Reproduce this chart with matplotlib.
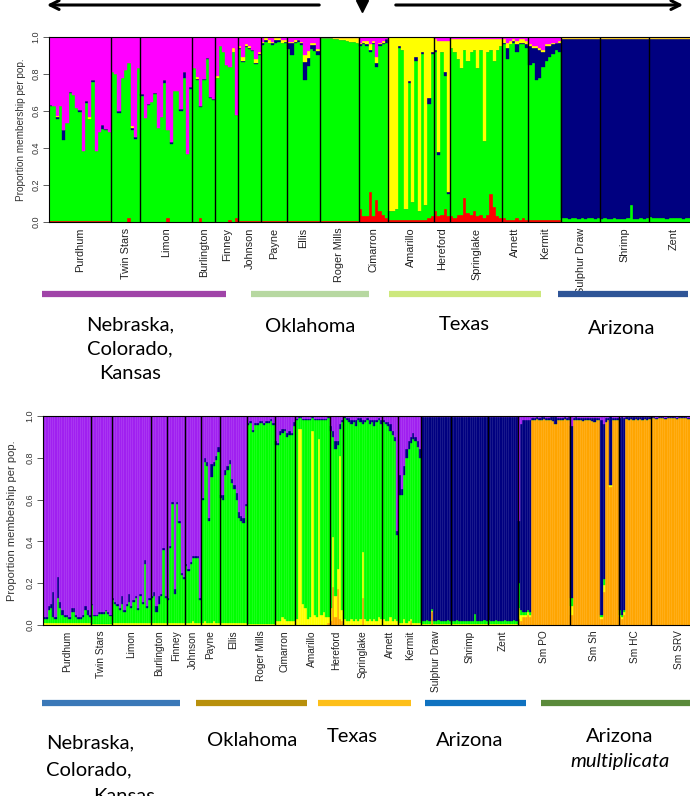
import numpy as np
import matplotlib.pyplot as plt

# ---- top panel (K=5): red, green, navy, yellow, magenta(rest) ----
TOP_POPS = ['Purdhum', 'Twin Stars', 'Limon', 'Burlington', 'Finney', 'Johnson', 'Payne', 'Ellis',
            'Roger Mills', 'Cimarron', 'Amarillo', 'Hereford', 'Springlake', 'Arnett', 'Kermit',
            'Sulphur Draw', 'Shrimp', 'Zent']
# a scalar means the same value for every individual of that population
TOP_N = [19, 9, 16, 7, 7, 7, 8, 10, 12, 9, 14, 5, 16, 8, 10, 12, 15, 15]
TOP_GREEN = [
    [0.62, 0.62, 0.55, 0.62, 0.44, 0.53, 0.69, 0.68, 0.61, 0.59, 0.38, 0.64, 0.55, 0.75, 0.38, 0.48, 0.50, 0.49, 0.48],
    [0.81, 0.80, 0.59, 0.78, 0.82, 0.84, 0.50, 0.45, 0.83],
    [0.68, 0.56, 0.63, 0.65, 0.69, 0.51, 0.57, 0.75, 0.48, 0.42, 0.71, 0.71, 0.60, 0.78, 0.37, 0.72],
    [0.83, 0.77, 0.60, 0.77, 0.88, 0.67, 0.66],
    [0.78, 0.95, 0.92, 0.85, 0.83, 0.92, 0.56],
    [0.93, 0.86, 0.94, 0.93, 0.92, 0.85, 0.90],
    [0.95, 0.97, 0.96, 0.95, 0.96, 0.97, 0.96, 0.96],
    [0.93, 0.90, 0.96, 0.97, 0.95, 0.76, 0.84, 0.93, 0.92, 0.90],
    [0.99, 0.99, 0.99, 0.99, 0.985, 0.985, 0.98, 0.98, 0.975, 0.97, 0.97, 0.96],
    [0.88, 0.93, 0.92, 0.76, 0.93, 0.72, 0.89, 0.92, 0.95],
    [0.05, 0.05, 0.06, 0.93, 0.92, 0.06, 0.74, 0.10, 0.86, 0.05, 0.90, 0.08, 0.62, 0.88],
    [0.86, 0.33, 0.88, 0.72, 0.12],
    [0.91, 0.90, 0.84, 0.79, 0.80, 0.82, 0.88, 0.87, 0.80, 0.89, 0.42, 0.88, 0.78, 0.79, 0.90, 0.93],
    [0.94, 0.87, 0.95, 0.96, 0.90, 0.95, 0.94, 0.93],
    [0.84, 0.85, 0.76, 0.77, 0.83, 0.86, 0.88, 0.90, 0.92, 0.91],
    [0.02, 0.02, 0.015, 0.02, 0.02, 0.015, 0.02, 0.015, 0.02, 0.02, 0.015, 0.02],
    [0.015, 0.02, 0.015, 0.015, 0.02, 0.015, 0.015, 0.015, 0.02, 0.09, 0.015, 0.015, 0.02, 0.015, 0.02],
    [0.025, 0.02, 0.02, 0.02, 0.02, 0.015, 0.02, 0.02, 0.02, 0.02, 0.015, 0.02, 0.02, 0.02, 0.02],
]
TOP_RED = [
    0.005,
    [0, 0, 0, 0, 0, 0.02, 0, 0, 0],
    [0, 0, 0, 0, 0, 0, 0, 0, 0.02, 0, 0, 0, 0, 0, 0, 0],
    [0, 0, 0.02, 0, 0, 0, 0],
    [0, 0, 0, 0, 0.01, 0, 0.02],
    0.005, 0.005, 0.005, 0.005,
    [0.07, 0.03, 0.03, 0.16, 0.03, 0.12, 0.06, 0.04, 0.02],
    [0.01, 0.01, 0.01, 0.01, 0.01, 0.01, 0.01, 0.01, 0.01, 0.01, 0.01, 0.01, 0.02, 0.03],
    [0.06, 0.03, 0.04, 0.07, 0.03],
    [0.03, 0.02, 0.04, 0.04, 0.13, 0.05, 0.04, 0.06, 0.03, 0.04, 0.02, 0.04, 0.15, 0.08, 0.03, 0.02],
    [0.02, 0.01, 0.01, 0.01, 0.02, 0.01, 0.02, 0.01],
    0.01, 0, 0, 0,
]
TOP_NAVY = [
    [0.01, 0, 0.01, 0, 0.05, 0, 0.01, 0, 0, 0.01, 0, 0.01, 0, 0.01, 0, 0, 0.02, 0.01, 0],
    [0, 0, 0.01, 0, 0, 0, 0.01, 0.01, 0],
    [0.01, 0, 0.01, 0, 0.01, 0, 0, 0.02, 0, 0.01, 0, 0, 0.01, 0.03, 0, 0.01],
    0.005, 0, 0.005,
    [0.01, 0.01, 0, 0.01, 0.02, 0.01, 0, 0.01],
    [0.03, 0.06, 0.01, 0.01, 0.01, 0.10, 0.04, 0.02, 0.03, 0.02],
    0,
    [0.01, 0.01, 0.01, 0.01, 0.01, 0.02, 0.01, 0.01, 0.02],
    [0, 0, 0, 0.01, 0, 0, 0.01, 0, 0.02, 0, 0.01, 0, 0.03, 0.01],
    [0.01, 0.02, 0, 0.02, 0.01],
    0,
    [0.01, 0.06, 0, 0.01, 0.04, 0.01, 0.01, 0.02],
    [0.10, 0.08, 0.17, 0.15, 0.08, 0.08, 0.06, 0.05, 0.04, 0.05],
    [0.97, 0.97, 0.975, 0.97, 0.97, 0.975, 0.97, 0.975, 0.97, 0.97, 0.975, 0.97],
    [0.975, 0.97, 0.975, 0.975, 0.97, 0.975, 0.975, 0.975, 0.97, 0.90, 0.975, 0.975, 0.97, 0.975, 0.97],
    [0.965, 0.97, 0.97, 0.97, 0.97, 0.975, 0.97, 0.97, 0.97, 0.97, 0.975, 0.97, 0.97, 0.97, 0.97],
]
TOP_YELLOW = [
    [0, 0, 0.01, 0, 0, 0, 0, 0, 0, 0, 0, 0, 0.01, 0, 0, 0, 0, 0, 0],
    [0, 0, 0, 0, 0, 0, 0.01, 0, 0],
    0,
    [0, 0.01, 0, 0, 0, 0, 0],
    [0.01, 0, 0, 0, 0, 0.02, 0],
    [0.01, 0.02, 0.01, 0.01, 0, 0.02, 0.01],
    [0.01, 0.01, 0.02, 0.01, 0.01, 0.01, 0.02, 0.01],
    [0.01, 0.01, 0.01, 0, 0.01, 0.04, 0.04, 0.01, 0.01, 0.01],
    [0, 0, 0, 0, 0.005, 0.005, 0.01, 0.01, 0.015, 0.02, 0.02, 0.03],
    [0.01, 0.01, 0.02, 0.03, 0.01, 0.03, 0.01, 0.01, 0],
    [0.94, 0.94, 0.93, 0.05, 0.07, 0.93, 0.24, 0.89, 0.11, 0.94, 0.08, 0.91, 0.33, 0.08],
    [0.06, 0.60, 0.06, 0.17, 0.82],
    [0.05, 0.07, 0.11, 0.16, 0.06, 0.12, 0.07, 0.06, 0.16, 0.06, 0.55, 0.07, 0.06, 0.12, 0.06, 0.04],
    [0.02, 0.03, 0.02, 0.01, 0.02, 0.02, 0.02, 0.02],
    [0.01, 0.01, 0.01, 0.01, 0.01, 0.01, 0.01, 0.01, 0, 0.01],
    0.005, 0.005, 0.005,
]

# ---- bottom panel: orange, yellow, green, navy, purple(rest) ----
BOT_POPS = ['Purdhum', 'Twin Stars', 'Limon', 'Burlington', 'Finney', 'Johnson', 'Payne', 'Ellis',
            'Roger Mills', 'Cimarron', 'Amarillo', 'Hereford', 'Springlake', 'Arnett', 'Kermit',
            'Sulphur Draw', 'Shrimp', 'Zent', 'Sm PO', 'Sm Sh', 'Sm HC', 'Sm SRV']
BOT_N = [21, 9, 17, 7, 8, 7, 8, 12, 12, 9, 15, 6, 17, 7, 10, 13, 16, 13, 23, 21, 14, 25]
BOT_ORANGE = [
    0, 0, 0, 0, 0, 0, 0, 0, 0, 0,
    [0, 0, 0, 0, 0, 0, 0, 0, 0, 0, 0, 0, 0, 0, 0.01],
    [0.02, 0.18, 0.04, 0.17, 0.03, 0.02],
    [0, 0, 0, 0, 0, 0, 0, 0, 0.13, 0, 0, 0, 0, 0, 0, 0, 0],
    0,
    [0, 0, 0, 0, 0, 0.02, 0, 0, 0, 0],
    [0, 0, 0, 0, 0.06, 0, 0, 0, 0, 0, 0, 0, 0],
    0, 0,
    [0.03, 0.02, 0.04, 0.04, 0.05, 0.04, 0.98, 0.98, 0.985, 0.98, 0.98, 0.985, 0.98, 0.98, 0.98, 0.975,
     0.96, 0.98, 0.98, 0.98, 0.985, 0.98, 0.98],
    [0.05, 0.98, 0.98, 0.98, 0.98, 0.975, 0.98, 0.98, 0.98, 0.975, 0.97, 0.98, 0.98, 0.03, 0.16, 0.97,
     0.98, 0.66, 0.98, 0.98, 0.98],
    [0.04, 0.03, 0.05, 0.985, 0.98, 0.985, 0.98, 0.985, 0.98, 0.985, 0.98, 0.985, 0.98, 0.985],
    [0.99, 0.99, 0.985, 0.99, 0.99, 0.99, 0.985, 0.99, 0.99, 0.99, 0.99, 0.985, 0.99, 0.99, 0.99, 0.99,
     0.985, 0.99, 0.99, 0.99, 0.99, 0.99, 0.985, 0.99, 0.99],
]
BOT_YELLOW = [
    0.01, 0.005, 0.01, 0.01, 0.01,
    [0.01, 0.01, 0.01, 0.02, 0.01, 0.01, 0.01],
    [0.01, 0.02, 0.01, 0.01, 0.01, 0.02, 0.01, 0.01],
    0.01, 0.005,
    [0.02, 0.02, 0.02, 0.04, 0.03, 0.02, 0.02, 0.02, 0.02],
    [0.03, 0.94, 0.94, 0.10, 0.08, 0.03, 0.04, 0.93, 0.05, 0.04, 0.89, 0.05, 0.06, 0.04, 0.03],
    [0.06, 0.24, 0.10, 0.10, 0.78, 0.05],
    [0.03, 0.02, 0.02, 0.03, 0.02, 0.03, 0.02, 0.03, 0.22, 0.03, 0.02, 0.03, 0.02, 0.03, 0.02, 0.04, 0.03],
    [0.03, 0.02, 0.02, 0.04, 0.02, 0.03, 0.02],
    [0.01, 0.01, 0.03, 0.01, 0.02, 0.01, 0.01, 0.01, 0.01, 0.01],
    0.005, 0.005, 0.005,
    [0.05, 0.03, 0.01, 0.01, 0.01, 0.01, 0, 0, 0, 0, 0, 0, 0, 0, 0, 0, 0, 0, 0, 0, 0, 0, 0],
    [0.04, 0, 0, 0, 0, 0, 0, 0, 0, 0, 0, 0, 0, 0.01, 0.03, 0, 0, 0.01, 0, 0, 0],
    [0.01, 0.01, 0.01, 0, 0, 0, 0, 0, 0, 0, 0, 0, 0, 0],
    0,
]
BOT_GREEN = [
    [0.02, 0.02, 0.06, 0.07, 0.03, 0.02, 0.12, 0.07, 0.04, 0.03, 0.03, 0.02, 0.05, 0.05, 0.03, 0.02, 0.02,
     0.03, 0.06, 0.04, 0.03],
    [0.09, 0.04, 0.04, 0.05, 0.05, 0.05, 0.06, 0.05, 0.04],
    [0.11, 0.09, 0.08, 0.06, 0.09, 0.05, 0.08, 0.10, 0.07, 0.10, 0.12, 0.06, 0.13, 0.09, 0.28, 0.07, 0.11],
    [0.12, 0.13, 0.05, 0.09, 0.13, 0.35, 0.12],
    [0.11, 0.36, 0.57, 0.14, 0.57, 0.48, 0.23, 0.21],
    [0.27, 0.25, 0.28, 0.30, 0.31, 0.31, 0.11],
    [0.59, 0.76, 0.75, 0.49, 0.70, 0.74, 0.78, 0.82],
    [0.60, 0.59, 0.71, 0.73, 0.76, 0.67, 0.64, 0.59, 0.50, 0.49, 0.48, 0.56],
    [0.95, 0.96, 0.92, 0.95, 0.95, 0.96, 0.96, 0.95, 0.96, 0.96, 0.97, 0.95],
    [0.84, 0.84, 0.89, 0.88, 0.90, 0.88, 0.89, 0.89, 0.93],
    [0.95, 0.05, 0.05, 0.88, 0.90, 0.95, 0.94, 0.06, 0.93, 0.94, 0.09, 0.93, 0.92, 0.94, 0.95],
    [0.85, 0.48, 0.70, 0.59, 0.13, 0.90],
    [0.96, 0.96, 0.95, 0.93, 0.95, 0.92, 0.96, 0.94, 0.61, 0.94, 0.96, 0.93, 0.95, 0.92, 0.95, 0.94, 0.93],
    [0.94, 0.94, 0.93, 0.89, 0.89, 0.85, 0.41],
    [0.61, 0.61, 0.69, 0.79, 0.82, 0.84, 0.88, 0.87, 0.84, 0.79],
    [0.015, 0.015, 0.02, 0.015, 0.01, 0.015, 0.015, 0.02, 0.015, 0.015, 0.015, 0.02, 0.015],
    [0.015, 0.015, 0.02, 0.015, 0.015, 0.015, 0.015, 0.015, 0.015, 0.015, 0.05, 0.015, 0.015, 0.015, 0.02, 0.015],
    [0.02, 0.015, 0.015, 0.02, 0.015, 0.015, 0.015, 0.02, 0.015, 0.015, 0.015, 0.02, 0.015],
    [0.12, 0.02, 0.01, 0.01, 0.01, 0.01, 0, 0, 0, 0, 0, 0, 0, 0, 0, 0, 0, 0, 0, 0, 0, 0, 0],
    [0.04, 0, 0, 0, 0, 0, 0, 0, 0, 0, 0, 0, 0, 0.01, 0.03, 0, 0, 0, 0, 0, 0],
    [0.02, 0.01, 0.01, 0, 0, 0, 0, 0, 0, 0, 0, 0, 0, 0],
    0,
]
BOT_NAVY = [
    [0.01, 0.01, 0.02, 0.02, 0.12, 0.01, 0.10, 0.03, 0.02, 0.01, 0.01, 0.01, 0.02, 0.02, 0.01, 0.01, 0.01,
     0.01, 0.02, 0.02, 0.01],
    0.005,
    [0.01, 0.01, 0.01, 0.01, 0.04, 0.01, 0.01, 0.04, 0.01, 0.01, 0.01, 0.01, 0.01, 0.01, 0.02, 0.01, 0.01],
    [0.01, 0.02, 0.03, 0.04, 0.01, 0.01, 0.01],
    [0.01, 0.01, 0.01, 0.02, 0.01, 0.01, 0.01, 0.01],
    0.01,
    [0.01, 0.02, 0.02, 0.01, 0.06, 0.02, 0.02, 0.02],
    [0.01, 0.02, 0.02, 0.02, 0.02, 0.02, 0.02, 0.03, 0.03, 0.02, 0.02, 0.01],
    0.01,
    [0.02, 0.01, 0.02, 0.02, 0.01, 0.02, 0.02, 0.01, 0.02],
    0.005,
    [0.02, 0.03, 0.04, 0.02, 0.02, 0.01],
    [0.01, 0.01, 0.02, 0.02, 0.01, 0.03, 0.01, 0.02, 0.02, 0.01, 0.01, 0.02, 0.01, 0.03, 0.01, 0.01, 0.02],
    [0.01, 0.01, 0.02, 0.03, 0.02, 0.02, 0.02],
    [0.10, 0.03, 0.04, 0.04, 0.04, 0.03, 0.03, 0.02, 0.03, 0.04],
    [0.975, 0.975, 0.97, 0.975, 0.92, 0.975, 0.975, 0.97, 0.975, 0.975, 0.975, 0.97, 0.975],
    [0.975, 0.975, 0.97, 0.975, 0.975, 0.975, 0.975, 0.975, 0.975, 0.975, 0.94, 0.975, 0.975, 0.975, 0.97, 0.975],
    [0.97, 0.975, 0.975, 0.97, 0.975, 0.975, 0.975, 0.97, 0.975, 0.975, 0.975, 0.97, 0.975],
    [0.30, 0.89, 0.92, 0.92, 0.91, 0.92, 0.01, 0.01, 0.01, 0.01, 0.015, 0.01, 0.01, 0.01, 0.015, 0.02,
     0.035, 0.01, 0.01, 0.01, 0.01, 0.01, 0.015],
    [0.82, 0.01, 0.015, 0.01, 0.01, 0.015, 0.01, 0.01, 0.01, 0.015, 0.02, 0.01, 0.01, 0.93, 0.74, 0.02,
     0.01, 0.33, 0.01, 0.01, 0.01],
    [0.92, 0.95, 0.92, 0.01, 0.015, 0.01, 0.015, 0.01, 0.015, 0.01, 0.015, 0.01, 0.015, 0.01],
    0.005,
]

TOP_REGIONS = ['Nebraska,\nColorado,\nKansas', 'Oklahoma', 'Texas', 'Arizona']
BOT_REGIONS = ['Nebraska,', 'Oklahoma', 'Texas', 'Arizona', 'Arizona']


def expand(values, counts):
    out = []
    for i, (v, n) in enumerate(zip(values, counts)):
        a = np.full(n, float(v)) if np.isscalar(v) else np.asarray(v, float)
        if len(a) != n:
            raise ValueError(f'population {i}: {len(a)} values, expected {n}')
        out.append(a)
    return np.concatenate(out)


def structure_panel(ax, layers, colors, rest_color, counts, pops, label_size, stripes=False):
    total = sum(counts)
    x = np.arange(total)
    bottom = np.zeros(total)
    for h, c in zip(layers, colors):
        ax.bar(x, h, bottom=bottom, width=1, align='edge', color=c, edgecolor=c, linewidth=0.25)
        bottom += h
    rest = np.clip(1 - bottom, 0, None)
    ax.bar(x, rest, bottom=bottom, width=1, align='edge', color=rest_color, edgecolor=rest_color, linewidth=0.25)
    if stripes:
        # faint light seams between individuals, as in the original barplot
        ax.vlines(x[1:], 0, 1, color='white', lw=0.4, alpha=0.18)
    edges = np.cumsum(counts)
    ax.vlines(edges[:-1], 0, 1, color='black', lw=1.0)
    centers = edges - np.asarray(counts) / 2
    ax.set_xlim(0, total)
    ax.set_ylim(0, 1)
    ax.set_xticks(centers)
    ax.set_xticklabels(pops, rotation=90, fontsize=label_size, color='#222222', family='Liberation Sans')
    ax.tick_params(axis='x', length=0, pad=4)
    ticks = np.arange(0, 1.01, 0.2)
    ax.set_yticks(ticks)
    ax.set_yticklabels([f'{t:.1f}' for t in ticks], rotation=90, va='center',
                       fontsize=6.5, color='#333333', family='Liberation Sans')
    ax.tick_params(axis='y', length=4, width=0.6, pad=2, color='#444444')
    for s in ax.spines.values():
        s.set_linewidth(0.8)


fig = plt.figure(figsize=(6.9, 7.96), dpi=100)
W, H = 690, 796


def px_axes(x0, y0, x1, y1):
    return fig.add_axes([x0 / W, 1 - y1 / H, (x1 - x0) / W, (y1 - y0) / H])


ax1 = px_axes(49, 37, 698, 222)
top_layers = [expand(TOP_RED, TOP_N), expand(TOP_GREEN, TOP_N), expand(TOP_NAVY, TOP_N), expand(TOP_YELLOW, TOP_N)]
structure_panel(ax1, top_layers, ['#ff0000', '#00ff00', '#000080', '#ffff00'], '#ff00ff', TOP_N, TOP_POPS, 7.8)
ax1.set_ylabel('Proportion membership per pop.', fontsize=7.2, color='#333333', family='Liberation Sans', labelpad=4)

ax2 = px_axes(43, 416, 708, 625)
bot_layers = [expand(BOT_ORANGE, BOT_N), expand(BOT_YELLOW, BOT_N), expand(BOT_GREEN, BOT_N), expand(BOT_NAVY, BOT_N)]
structure_panel(ax2, bot_layers, ['#ffa500', '#ffff00', '#00ff00', '#000080'], '#a020f0', BOT_N, BOT_POPS, 7.3,
                stripes=True)
ax2.set_ylabel('Proportion membership per pop.', fontsize=8, color='#333333', family='Liberation Sans', labelpad=6)

# overlay in pixel coordinates for arrows, region bars and region names
ov = fig.add_axes([0, 0, 1, 1], facecolor='none')
ov.set_xlim(0, W)
ov.set_ylim(H, 0)
ov.axis('off')

ov.annotate('', xy=(44, 5), xytext=(322, 5),
            arrowprops=dict(arrowstyle='->', lw=2.2, color='black', mutation_scale=16))
ov.annotate('', xy=(686, 5), xytext=(393, 5),
            arrowprops=dict(arrowstyle='->', lw=2.2, color='black', mutation_scale=16))
ov.plot([362], [6], marker='v', color='black', markersize=9)

for (a, b), c in zip([(42, 226), (251, 369), (389, 541), (558, 688)],
                     ['#a044a8', '#b7d8a1', '#cde87d', '#2f5597']):
    ov.plot([a, b], [294, 294], color=c, lw=4.5, solid_capstyle='butt')
for (a, b), c in zip([(42, 180), (196, 307), (318, 411), (425, 526), (541, 690)],
                     ['#3a78b8', '#b8900c', '#fdbf1a', '#1072c0', '#5a8a3a']):
    ov.plot([a, b], [703, 703], color=c, lw=4.5, solid_capstyle='butt')

FONT = 'Lato'
FS = 14.5
ov.text(130, 316, TOP_REGIONS[0], ha='center', va='top', fontsize=FS, family=FONT, linespacing=1.55)
ov.text(310, 326, TOP_REGIONS[1], ha='center', va='center', fontsize=FS, family=FONT)
ov.text(464, 325, TOP_REGIONS[2], ha='center', va='center', fontsize=FS, family=FONT)
ov.text(622, 328, TOP_REGIONS[3], ha='center', va='center', fontsize=FS, family=FONT)

ov.text(46, 743, BOT_REGIONS[0], ha='left', va='center', fontsize=FS, family=FONT)
ov.text(46, 770, 'Colorado,', ha='left', va='center', fontsize=FS, family=FONT)
ov.text(93, 796, 'Kansas', ha='left', va='center', fontsize=FS, family=FONT)
ov.text(252, 740, BOT_REGIONS[1], ha='center', va='center', fontsize=FS, family=FONT)
ov.text(352, 737, BOT_REGIONS[2], ha='center', va='center', fontsize=FS, family=FONT)
ov.text(470, 741, BOT_REGIONS[3], ha='center', va='center', fontsize=FS, family=FONT)
ov.text(620, 736, BOT_REGIONS[4], ha='center', va='center', fontsize=FS, family=FONT)
ov.text(620, 762, 'multiplicata', ha='center', va='center', fontsize=FS, family=FONT, style='italic')

fig.savefig('out.png', dpi=100)
